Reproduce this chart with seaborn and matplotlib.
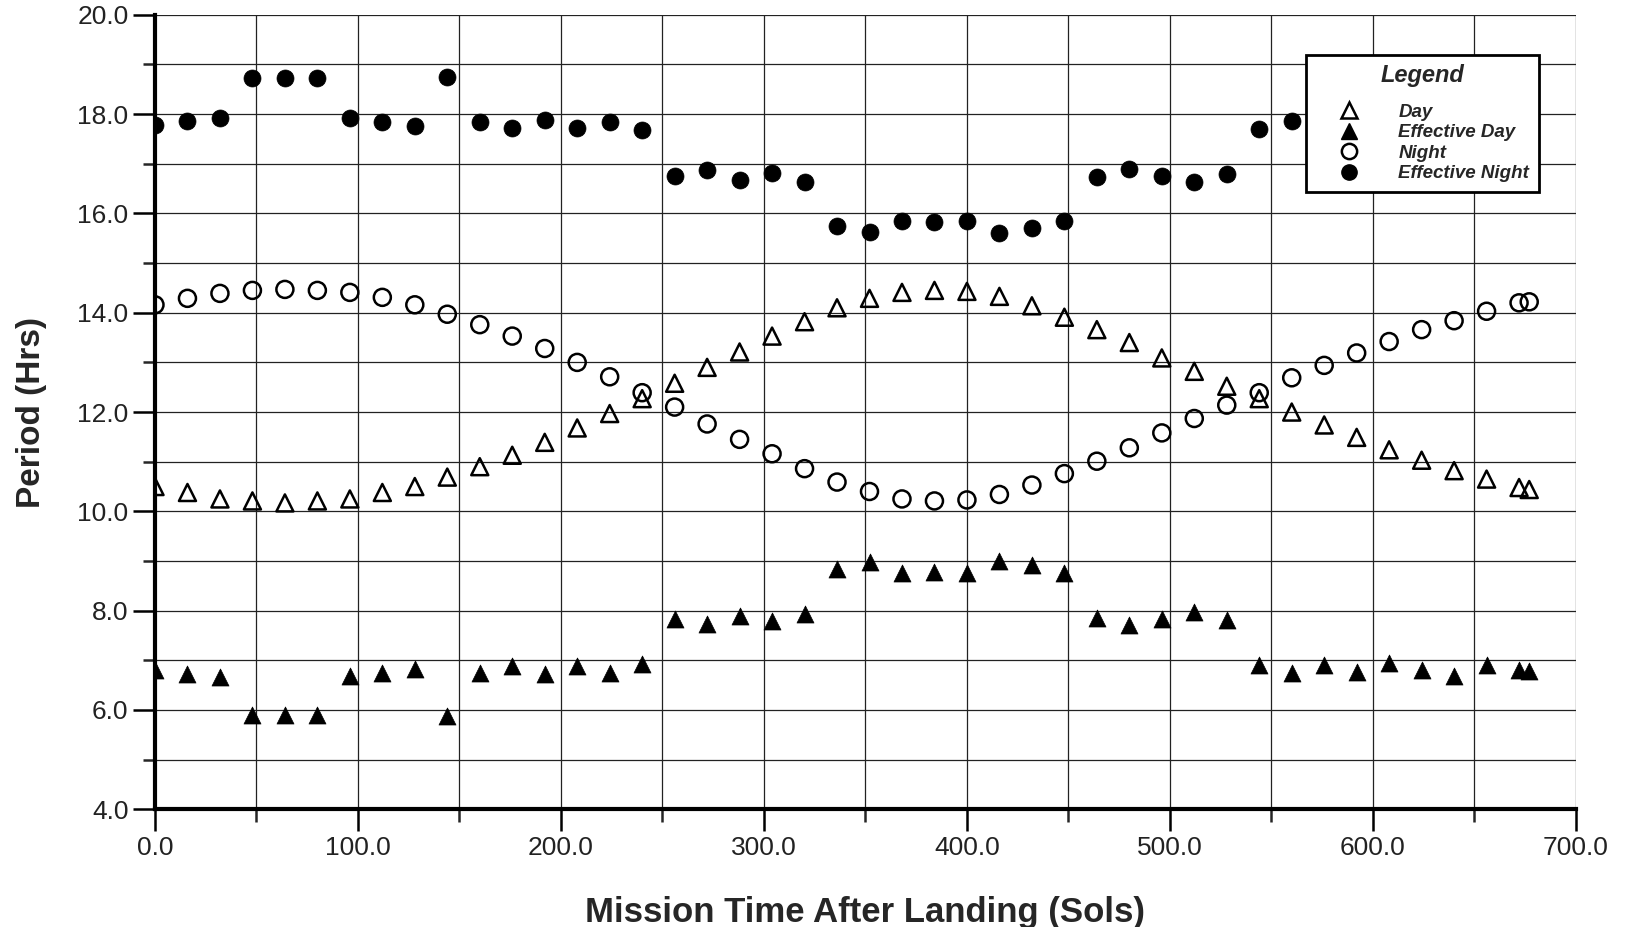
import matplotlib
matplotlib.use("Agg")
import matplotlib.pyplot as plt
from matplotlib.lines import Line2D
from matplotlib.ticker import MultipleLocator, FormatStrFormatter
import seaborn as sns
import pandas as pd

# mission time (sols) of each sample
sols = [0, 16, 32, 48, 64, 80, 96, 112, 128, 144, 160, 176, 192, 208, 224, 240,
        256, 272, 288, 304, 320, 336, 352, 368, 384, 400, 416, 432, 448, 464, 480,
        496, 512, 528, 544, 560, 576, 592, 608, 624, 640, 656, 672, 677]

day = [10.50, 10.38, 10.25, 10.21, 10.17, 10.21, 10.25, 10.38, 10.50, 10.69, 10.90,
       11.13, 11.39, 11.68, 11.97, 12.27, 12.58, 12.90, 13.21, 13.53, 13.82, 14.10,
       14.29, 14.41, 14.45, 14.43, 14.33, 14.14, 13.91, 13.66, 13.40, 13.09, 12.82,
       12.52, 12.27, 12.00, 11.74, 11.49, 11.24, 11.03, 10.82, 10.65, 10.48, 10.44]

eff_day = [6.81, 6.72, 6.66, 5.90, 5.90, 5.90, 6.68, 6.74, 6.83, 5.88, 6.74, 6.89,
           6.72, 6.89, 6.74, 6.93, 7.84, 7.73, 7.90, 7.79, 7.94, 8.84, 8.97, 8.76,
           8.78, 8.76, 9.01, 8.91, 8.76, 7.86, 7.71, 7.84, 7.98, 7.82, 6.91, 6.74,
           6.91, 6.76, 6.95, 6.81, 6.68, 6.91, 6.81, 6.79]

night = [14.16, 14.29, 14.39, 14.45, 14.47, 14.45, 14.41, 14.31, 14.16, 13.97, 13.76,
         13.53, 13.28, 13.00, 12.71, 12.39, 12.10, 11.76, 11.45, 11.16, 10.86, 10.59,
         10.40, 10.25, 10.21, 10.23, 10.34, 10.53, 10.76, 11.01, 11.28, 11.58, 11.87,
         12.14, 12.39, 12.69, 12.94, 13.19, 13.42, 13.66, 13.84, 14.03, 14.20, 14.22]

eff_night = [17.78, 17.86, 17.93, 18.72, 18.72, 18.72, 17.93, 17.85, 17.76, 18.74,
             17.85, 17.72, 17.88, 17.72, 17.85, 17.68, 16.75, 16.87, 16.67, 16.81,
             16.64, 15.75, 15.62, 15.85, 15.82, 15.85, 15.60, 15.70, 15.85, 16.74,
             16.89, 16.75, 16.64, 16.80, 17.70, 17.86, 17.85, 17.80, 17.86, 17.82,
             17.85, 17.80, 17.84, 17.84]

df = pd.DataFrame({"sol": sols, "day": day, "eff_day": eff_day,
                   "night": night, "eff_night": eff_night})

sns.set_style("white")
plt.rcParams["font.family"] = ["Liberation Sans", "DejaVu Sans"]

fig = plt.figure(figsize=(16.28, 9.27), dpi=100)
ax = fig.add_axes([0.0952, 0.127, 0.8728, 0.857])

msize = 150
sns.scatterplot(data=df, x="sol", y="eff_night", ax=ax, marker="o", s=msize,
                color="black", edgecolor="black", linewidth=0.5, zorder=3)
sns.scatterplot(data=df, x="sol", y="night", ax=ax, marker="o", s=msize,
                facecolors="none", edgecolor="black", linewidth=1.8, zorder=3)
sns.scatterplot(data=df, x="sol", y="day", ax=ax, marker="^", s=msize,
                facecolors="none", edgecolor="black", linewidth=1.8, zorder=3)
sns.scatterplot(data=df, x="sol", y="eff_day", ax=ax, marker="^", s=msize,
                color="black", edgecolor="black", linewidth=0.5, zorder=3)

ax.set_xlim(0, 700)
ax.set_ylim(4, 20)
ax.xaxis.set_major_locator(MultipleLocator(100))
ax.xaxis.set_minor_locator(MultipleLocator(50))
ax.yaxis.set_major_locator(MultipleLocator(2))
ax.yaxis.set_minor_locator(MultipleLocator(1))
ax.xaxis.set_major_formatter(FormatStrFormatter("%.1f"))
ax.yaxis.set_major_formatter(FormatStrFormatter("%.1f"))

ax.grid(which="both", color="#222222", linewidth=0.9)
ax.set_axisbelow(True)
for side in ["top", "right"]:
    ax.spines[side].set_visible(False)
for side in ["left", "bottom"]:
    ax.spines[side].set_linewidth(3)
    ax.spines[side].set_color("black")

ax.tick_params(which="major", direction="out", length=16, width=1.8,
               labelsize=19, pad=3, colors="black", left=True, bottom=True)
ax.tick_params(which="minor", direction="out", length=9, width=1.8,
               left=True, bottom=True)
for lbl in ax.get_xticklabels() + ax.get_yticklabels():
    lbl.set_color("#222222")

ax.set_xlabel("Mission Time After Landing (Sols)", fontsize=25, weight="bold", labelpad=26)
ax.set_ylabel("Period (Hrs)", fontsize=24, weight="bold", labelpad=22)

handles = [
    Line2D([], [], linestyle="none", marker="^", markersize=11, markerfacecolor="none",
           markeredgecolor="black", markeredgewidth=1.8),
    Line2D([], [], linestyle="none", marker="^", markersize=11, color="black"),
    Line2D([], [], linestyle="none", marker="o", markersize=11, markerfacecolor="none",
           markeredgecolor="black", markeredgewidth=1.8),
    Line2D([], [], linestyle="none", marker="o", markersize=11, color="black"),
]
labels = ["Day", "Effective Day", "Night", "Effective Night"]
leg = ax.legend(handles, labels, title="Legend", loc="upper left",
                bbox_to_anchor=(0.8025, 0.941), bbox_transform=fig.transFigure,
                frameon=True, fancybox=False, framealpha=1, edgecolor="black",
                prop={"size": 13.5, "weight": "bold", "style": "italic"},
                labelspacing=0.18, handletextpad=0.9, borderpad=0.5,
                borderaxespad=0, handlelength=3.5)
leg.get_title().set_fontsize(17)
leg.get_title().set_fontweight("bold")
leg.get_title().set_fontstyle("italic")
leg._legend_box.sep = 12
leg.get_frame().set_linewidth(2)
leg.set_zorder(10)

plt.savefig("out.png", dpi=100)
plt.close()
